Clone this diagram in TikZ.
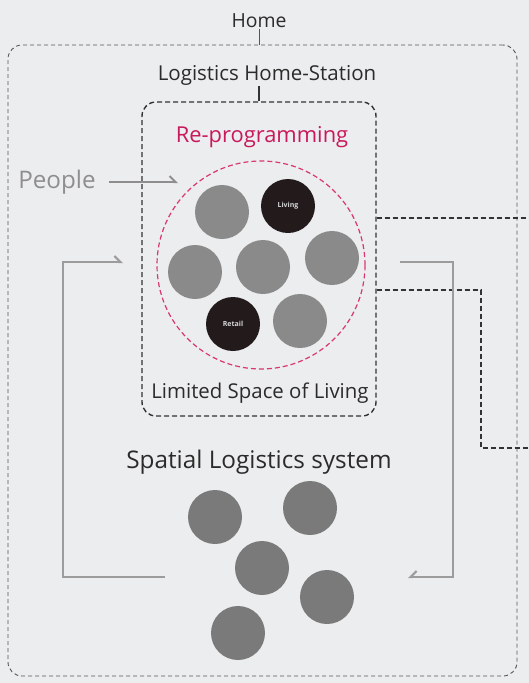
\documentclass[tikz,border=0pt]{standalone}
\usepackage{fontspec}
\setmainfont{Open Sans}
\usetikzlibrary{arrows.meta,calc}
\definecolor{bg}{HTML}{ECEDEE}
\definecolor{txt}{HTML}{2B2B2B}
\definecolor{outerd}{HTML}{555555}
\definecolor{innerd}{HTML}{333333}
\definecolor{disc}{HTML}{8A8A8A}
\definecolor{discdark}{HTML}{7A7A7A}
\definecolor{blk}{HTML}{231A1C}
\definecolor{pinkc}{HTML}{D8386F}
\definecolor{pinkt}{HTML}{C8195A}
\definecolor{loopc}{HTML}{9C9C9C}
\definecolor{ppl}{HTML}{8E8E8E}
\definecolor{disctxt}{HTML}{D6D6D6}
\tikzset{
  homebox/.style={draw=outerd, line width=0.9pt, dash pattern=on 4pt off 3pt, rounded corners=14pt, minimum width=509pt, minimum height=631pt, inner sep=0pt},
  hsbox/.style={draw=innerd, line width=1.4pt, dash pattern=on 5pt off 3pt, rounded corners=14pt, minimum width=234pt, minimum height=314pt, inner sep=0pt},
  hsline/.style={draw=innerd, line width=1.4pt, dash pattern=on 5pt off 3pt},
  pinkring/.style={circle, draw=pinkc, line width=1.2pt, dash pattern=on 5pt off 3pt, minimum size=208pt, inner sep=0pt},
  disk/.style={circle, fill=disc, minimum size=54pt, inner sep=0pt},
  diskb/.style={circle, fill=discdark, minimum size=54pt, inner sep=0pt},
  blackdisk/.style={circle, fill=blk, minimum size=54pt, inner sep=0pt, text=disctxt, font=\fontsize{7}{8}\selectfont\bfseries},
  lbl/.style={text=txt, inner sep=1pt},
  harpU/.style={-{Straight Barb[harpoon, length=6pt, width=12pt]}},
  harpD/.style={-{Straight Barb[harpoon, swap, length=6pt, width=12pt]}},
  looparrow/.style={draw=loopc, line width=2.2pt},
}
\begin{document}
\begin{tikzpicture}[x=1pt,y=-1pt]
\fill[bg] (0,0) rectangle (529,683);
\useasboundingbox (0,0) rectangle (529,683);

% outer home box
\node[homebox] (homebox) at (262.5,360.5) {};
\node[lbl, font=\fontsize{19.4}{22}\selectfont] (homelabel) at (259,21) {Home};
\draw[draw=outerd, line width=0.9pt] (homelabel.south) -- (homelabel.south |- homebox.north);

% logistics home-station box
\node[hsbox] (hs) at (259,259) {};
\node[lbl, font=\fontsize{20.5}{23}\selectfont] (hslabel) at (267,75) {Logistics Home-Station};
\draw[draw=innerd, line width=1.2pt] (hs.north) -- (hs.north |- hslabel.south);

\node[text=pinkt, font=\fontsize{21.9}{25}\selectfont] (reprog) at (262,137) {Re-programming};
\node[pinkring] (ring) at (261,265) {};

% discs inside
\node[disk] (d1) at (222,212) {};
\node[blackdisk] (living) at (288,206) {Living};
\node[disk] (d2) at (195,272) {};
\node[disk] (d3) at (263,267) {};
\node[disk] (d4) at (332,258) {};
\node[blackdisk] (retail) at (233,324) {Retail};
\node[disk] (d5) at (300,321) {};

\node[lbl, font=\fontsize{20.4}{23}\selectfont] (limited) at (260,393) {Limited Space of Living};

% people
\node[text=ppl, font=\fontsize{24.2}{27}\selectfont] (people) at (57,182) {People};
\coordinate (pa) at (178,182);
\draw[draw=ppl, line width=2pt, harpU] (people.east) ++(10,0) -- (pa);

% right dashed connectors
\coordinate (r1) at (529,218);
\coordinate (r2a) at (481,290);
\coordinate (r2) at (529,448);
\draw[hsline] (hs.east |- r1) -- (r1);
\draw[hsline] (hs.east |- r2a) -- (r2a) -- (r2a |- r2) -- (r2);

% spatial logistics system
\node[lbl, font=\fontsize{24.3}{28}\selectfont] (spatial) at (259,462) {Spatial Logistics system};
\node[diskb] (b1) at (215,517) {};
\node[diskb] (b2) at (310,508) {};
\node[diskb] (b3) at (262,568) {};
\node[diskb] (b4) at (327,597) {};
\node[diskb] (b5) at (238,633) {};

% loop arrows
\coordinate (l1) at (165,577);
\coordinate (l2) at (123,262);
\coordinate (m1) at (400,262);
\coordinate (m2) at (408,577);
\draw[looparrow, harpU] (l1) -- (63,577) -- (63,262) -- (l2);
\draw[looparrow, harpD] (m1) -- (453,262) -- (453,577) -- (m2);
\end{tikzpicture}
\end{document}
